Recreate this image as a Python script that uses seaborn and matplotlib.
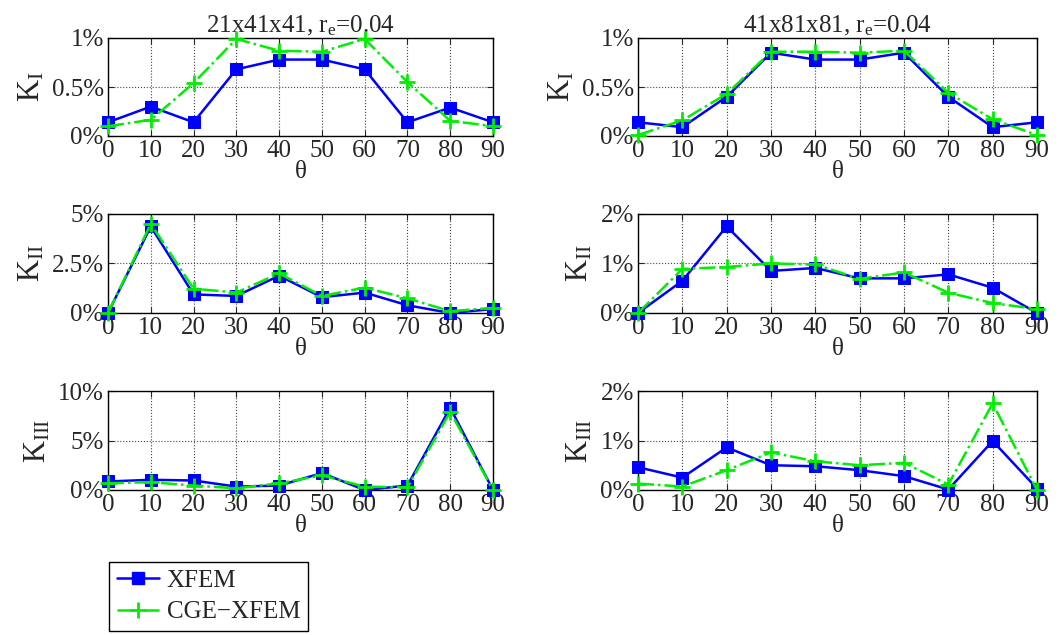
import numpy as np
import pandas as pd
import matplotlib
matplotlib.use("Agg")
import matplotlib.pyplot as plt
import seaborn as sns
from matplotlib.ticker import FuncFormatter
from matplotlib.lines import Line2D

theta = [0, 10, 20, 30, 40, 50, 60, 70, 80, 90]

# coarse mesh 21x41x41 (values in %)
kI_xfem_coarse = [0.14, 0.30, 0.14, 0.68, 0.78, 0.78, 0.68, 0.14, 0.29, 0.14]
kI_cge_coarse = [0.10, 0.165, 0.54, 0.99, 0.87, 0.86, 0.99, 0.55, 0.155, 0.10]
kII_xfem_coarse = [0.0, 4.37, 0.94, 0.86, 1.88, 0.80, 1.03, 0.39, 0.0, 0.20]
kII_cge_coarse = [0.0, 4.5, 1.23, 1.03, 2.0, 0.86, 1.28, 0.74, 0.09, 0.26]
kIII_xfem_coarse = [0.86, 1.03, 0.96, 0.34, 0.45, 1.71, 0.0, 0.45, 8.3, 0.0]
kIII_cge_coarse = [0.68, 0.79, 0.45, 0.17, 0.68, 1.47, 0.34, 0.27, 7.9, 0.0]

# fine mesh 41x81x81 (values in %)
kI_xfem_fine = [0.14, 0.09, 0.40, 0.85, 0.78, 0.78, 0.85, 0.40, 0.09, 0.14]
kI_cge_fine = [0.01, 0.16, 0.43, 0.86, 0.86, 0.85, 0.87, 0.44, 0.17, 0.01]
kII_xfem_fine = [0.0, 0.65, 1.75, 0.85, 0.91, 0.70, 0.70, 0.78, 0.51, 0.0]
kII_cge_fine = [0.0, 0.89, 0.93, 1.0, 0.98, 0.69, 0.82, 0.41, 0.20, 0.08]
kIII_xfem_fine = [0.46, 0.25, 0.86, 0.50, 0.48, 0.40, 0.28, 0.01, 0.99, 0.03]
kIII_cge_fine = [0.13, 0.07, 0.40, 0.76, 0.58, 0.50, 0.55, 0.11, 1.75, 0.0]

titles = [r"21x41x41, r$_\mathregular{e}$=0.04", r"41x81x81, r$_\mathregular{e}$=0.04"]
ylabels = [r"K$_\mathregular{I}$", r"K$_\mathregular{II}$", r"K$_\mathregular{III}$"]
yticks_coarse = [[0, 0.5, 1], [0, 2.5, 5], [0, 5, 10]]
yticks_fine = [[0, 0.5, 1], [0, 1, 2], [0, 1, 2]]

sns.set_style("ticks")
plt.rcParams["font.family"] = ["Liberation Serif", "DejaVu Serif"]
plt.rcParams["mathtext.default"] = "regular"

W, H = 1059, 635
fig = plt.figure(figsize=(W / 100, H / 100), dpi=100)

col_x = [(108, 493), (638, 1037)]
row_y = [(38, 136), (214, 313), (391, 490)]

data = [
    [(kI_xfem_coarse, kI_cge_coarse), (kI_xfem_fine, kI_cge_fine)],
    [(kII_xfem_coarse, kII_cge_coarse), (kII_xfem_fine, kII_cge_fine)],
    [(kIII_xfem_coarse, kIII_cge_coarse), (kIII_xfem_fine, kIII_cge_fine)],
]

blue = "#0000ff"
green = "#00ee00"
pct = FuncFormatter(lambda v, p: f"{v:g}%")

for r in range(3):
    for c in range(2):
        x0, x1 = col_x[c]
        t, b = row_y[r]
        ax = fig.add_axes([x0 / W, 1 - b / H, (x1 - x0) / W, (b - t) / H])
        xf, cg = data[r][c]
        sns.lineplot(x=theta, y=xf, ax=ax, color=blue, lw=1.8, marker="s",
                     markersize=9, markeredgecolor=blue, markerfacecolor=blue,
                     clip_on=False, zorder=3)
        sns.lineplot(x=theta, y=cg, ax=ax, color=green, lw=1.8, linestyle="-.",
                     marker="+", markersize=11, markeredgewidth=2, markeredgecolor=green,
                     clip_on=False, zorder=4)
        yt = yticks_coarse[r] if c == 0 else yticks_fine[r]
        ax.set_xlim(0, 90)
        ax.set_ylim(yt[0], yt[-1])
        ax.set_xticks(theta)
        ax.set_yticks(yt)
        ax.yaxis.set_major_formatter(pct)
        ax.grid(True, linestyle=":", color="#444444", lw=0.8)
        ax.tick_params(direction="in", top=True, right=True, labelsize=18, length=4, pad=3)
        for s in ax.spines.values():
            s.set_visible(True)
            s.set_linewidth(1.0)
            s.set_color("black")
        ax.set_xlabel("θ", fontsize=18, labelpad=-1)
        ax.set_ylabel(ylabels[r], fontsize=22, labelpad=4)
        if r == 0:
            ax.set_title(titles[c], fontsize=18, pad=4)

handles = [
    Line2D([], [], color=blue, lw=1.8, marker="s", markersize=9),
    Line2D([], [], color=green, lw=1.8, linestyle="-.", marker="+", markersize=11, markeredgewidth=2),
]
fig.legend(handles, ["XFEM", "CGE\u2212XFEM"], loc="upper left",
           bbox_to_anchor=(109 / W, 1 - 562 / H), borderaxespad=0, fontsize=18,
           frameon=True, fancybox=False, edgecolor="black", framealpha=1,
           handlelength=1.7, borderpad=0.3, labelspacing=0.35, handletextpad=0.3)

fig.savefig("out.png", dpi=100)
